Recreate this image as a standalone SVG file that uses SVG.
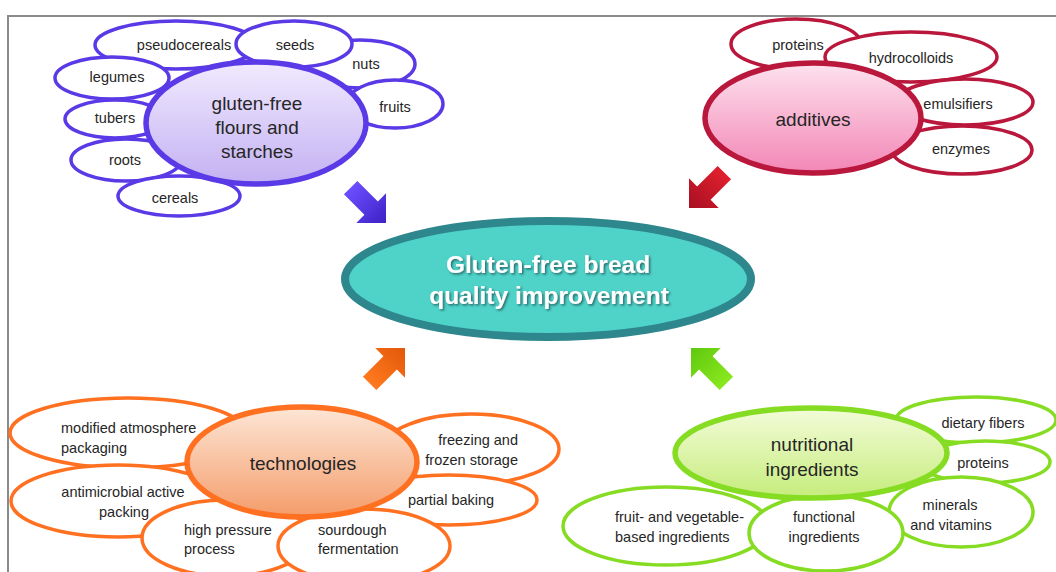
<svg xmlns="http://www.w3.org/2000/svg" width="1056" height="572" viewBox="0 0 1056 572">
  <defs>
    <linearGradient id="gPurple" x1="0" y1="0" x2="0" y2="1">
      <stop offset="0" stop-color="#f1eaff"/>
      <stop offset="1" stop-color="#c3b1f2"/>
    </linearGradient>
    <linearGradient id="gPink" x1="0" y1="0" x2="0" y2="1">
      <stop offset="0" stop-color="#fde2ee"/>
      <stop offset="1" stop-color="#f386b6"/>
    </linearGradient>
    <linearGradient id="gOrange" x1="0" y1="0" x2="0" y2="1">
      <stop offset="0" stop-color="#fde6d6"/>
      <stop offset="1" stop-color="#f49c6a"/>
    </linearGradient>
    <linearGradient id="gGreen" x1="0" y1="0" x2="0" y2="1">
      <stop offset="0" stop-color="#f3fcd9"/>
      <stop offset="1" stop-color="#c6ec7c"/>
    </linearGradient>
    <linearGradient id="aPurple" x1="0" y1="0" x2="1" y2="0">
      <stop offset="0" stop-color="#6c4dff"/>
      <stop offset="1" stop-color="#3d22c4"/>
    </linearGradient>
    <linearGradient id="aRed" x1="0" y1="0" x2="1" y2="0">
      <stop offset="0" stop-color="#e0202e"/>
      <stop offset="1" stop-color="#a80f22"/>
    </linearGradient>
    <linearGradient id="aOrange" x1="0" y1="0" x2="1" y2="0">
      <stop offset="0" stop-color="#ff7a1e"/>
      <stop offset="1" stop-color="#e2580a"/>
    </linearGradient>
    <linearGradient id="aGreen" x1="0" y1="0" x2="1" y2="0">
      <stop offset="0" stop-color="#8ae81e"/>
      <stop offset="1" stop-color="#5fc80e"/>
    </linearGradient>
    <filter id="shadow" x="-10%" y="-30%" width="120%" height="160%">
      <feDropShadow dx="1.5" dy="1.5" stdDeviation="1" flood-color="#1c3b40" flood-opacity="0.7"/>
    </filter>
    <path id="blockArrow" d="M0,0 L-21,-21 L-21,-9.5 L-50,-9.5 L-50,9.5 L-21,9.5 L-21,21 Z"/>
  </defs>
  <style>
    text { font-family: "Liberation Sans", Arial, sans-serif; fill: #262626; dominant-baseline: central; }
    .sat { font-size: 14.5px; text-anchor: middle; }
    .left { text-anchor: start; }
    .right { text-anchor: end; }
    .hub { font-size: 19px; text-anchor: middle; }
    .s-purple { fill: #fff; stroke: #5a3ae6; stroke-width: 3.5; }
    .s-red { fill: #fff; stroke: #b9173c; stroke-width: 3.5; }
    .s-orange { fill: #fff; stroke: #ff7020; stroke-width: 3.5; }
    .s-green { fill: #fff; stroke: #86dc22; stroke-width: 3.5; }
    .title { font-size: 24.5px; font-weight: bold; fill: #fff; text-anchor: middle; }
  </style>

  <rect width="1056" height="572" fill="#fff"/>
  <!-- frame -->
  <path d="M8,572 L8,16 L1056,16" fill="none" stroke="#8a8a8a" stroke-width="2"/>

  <!-- flours and starches cluster -->
  <g id="flours">
    <ellipse class="s-purple" cx="176" cy="45" rx="81" ry="24"/>
    <ellipse class="s-purple" cx="360" cy="64" rx="55" ry="24"/>
    <ellipse class="s-purple" cx="294" cy="44" rx="58" ry="23"/>
    <ellipse class="s-purple" cx="395" cy="104" rx="48" ry="24"/>
    <ellipse class="s-purple" cx="112" cy="78" rx="57" ry="21"/>
    <ellipse class="s-purple" cx="115" cy="119" rx="50" ry="19"/>
    <ellipse class="s-purple" cx="126" cy="160" rx="55" ry="21"/>
    <ellipse class="s-purple" cx="179" cy="196" rx="61" ry="20"/>
    <ellipse cx="256" cy="123" rx="110" ry="61" fill="url(#gPurple)" stroke="#5a3ae6" stroke-width="5.5"/>
    <text class="sat" x="184" y="45">pseudocereals</text>
    <text class="sat" x="295" y="45">seeds</text>
    <text class="sat" x="366" y="64">nuts</text>
    <text class="sat" x="395" y="107">fruits</text>
    <text class="sat" x="117" y="77">legumes</text>
    <text class="sat" x="115" y="118">tubers</text>
    <text class="sat" x="125" y="160">roots</text>
    <text class="sat" x="175" y="198">cereals</text>
    <text class="hub" x="257" y="103">gluten-free</text>
    <text class="hub" x="257" y="127">flours and</text>
    <text class="hub" x="257" y="151">starches</text>
  </g>

  <!-- additives cluster -->
  <g id="additives">
    <ellipse class="s-red" cx="796" cy="44" rx="65" ry="25"/>
    <ellipse class="s-red" cx="911" cy="57" rx="86" ry="25"/>
    <ellipse class="s-red" cx="965" cy="102" rx="68" ry="23"/>
    <ellipse class="s-red" cx="962" cy="150" rx="70" ry="24"/>
    <ellipse cx="813" cy="118" rx="108" ry="55" fill="url(#gPink)" stroke="#b9173c" stroke-width="5.5"/>
    <text class="sat" x="798" y="45">proteins</text>
    <text class="sat" x="911" y="58">hydrocolloids</text>
    <text class="sat" x="958" y="104">emulsifiers</text>
    <text class="sat" x="961" y="149">enzymes</text>
    <text class="hub" x="813" y="119">additives</text>
  </g>

  <!-- technologies cluster -->
  <g id="technologies">
    <ellipse class="s-orange" cx="128" cy="433" rx="118" ry="35"/>
    <ellipse class="s-orange" cx="118" cy="501" rx="107" ry="36"/>
    <ellipse class="s-orange" cx="226" cy="538" rx="84" ry="38"/>
    <ellipse class="s-orange" cx="471" cy="449" rx="88" ry="35"/>
    <ellipse class="s-orange" cx="449" cy="500" rx="88" ry="25"/>
    <ellipse class="s-orange" cx="364" cy="546" rx="86" ry="37"/>
    <ellipse cx="302" cy="462" rx="115" ry="55" fill="url(#gOrange)" stroke="#ff7020" stroke-width="5.5"/>
    <text class="sat left" x="61" y="428">modified atmosphere</text>
    <text class="sat left" x="61" y="448">packaging</text>
    <text class="sat" x="123" y="492">antimicrobial active</text>
    <text class="sat" x="124" y="512">packing</text>
    <text class="sat left" x="184" y="530">high pressure</text>
    <text class="sat left" x="184" y="549">process</text>
    <text class="sat left" x="318" y="530">sourdough</text>
    <text class="sat left" x="318" y="549">fermentation</text>
    <text class="sat right" x="518" y="440">freezing and</text>
    <text class="sat right" x="518" y="460">frozen storage</text>
    <text class="sat" x="451" y="500">partial baking</text>
    <text class="hub" x="303" y="463">technologies</text>
  </g>

  <!-- nutritional ingredients cluster -->
  <g id="nutritional">
    <ellipse class="s-green" cx="976" cy="420" rx="80" ry="23"/>
    <ellipse class="s-green" cx="985" cy="462" rx="65" ry="21"/>
    <ellipse class="s-green" cx="961" cy="512" rx="72" ry="35"/>
    <ellipse class="s-green" cx="666" cy="526" rx="103" ry="39"/>
    <ellipse class="s-green" cx="826" cy="533" rx="77" ry="38"/>
    <ellipse cx="811" cy="453" rx="136" ry="45" fill="url(#gGreen)" stroke="#86dc22" stroke-width="5.5"/>
    <text class="sat" x="983" y="423">dietary fibers</text>
    <text class="sat" x="983" y="463">proteins</text>
    <text class="sat" x="950" y="505">minerals</text>
    <text class="sat" x="951" y="525">and vitamins</text>
    <text class="sat left" x="615" y="517">fruit- and vegetable-</text>
    <text class="sat left" x="615" y="537">based ingredients</text>
    <text class="sat" x="824" y="517">functional</text>
    <text class="sat" x="824" y="537">ingredients</text>
    <text class="hub" x="812" y="444">nutritional</text>
    <text class="hub" x="812" y="469">ingredients</text>
  </g>

  <!-- central goal -->
  <g id="goal">
    <ellipse cx="548" cy="279" rx="203" ry="58" fill="#4fd3c9" stroke="#2e878d" stroke-width="8"/>
    <g filter="url(#shadow)">
      <text class="title" x="548" y="264">Gluten-free bread</text>
      <text class="title" x="549" y="295">quality improvement</text>
    </g>
  </g>

  <!-- arrows towards the goal -->
  <g id="connectors">
    <use href="#blockArrow" fill="url(#aPurple)" transform="translate(386,223) rotate(45)"/>
    <use href="#blockArrow" fill="url(#aRed)" transform="translate(689,208) rotate(135)"/>
    <use href="#blockArrow" fill="url(#aOrange)" transform="translate(405,348) rotate(-45)"/>
    <use href="#blockArrow" fill="url(#aGreen)" transform="translate(691,348) rotate(-135)"/>
  </g>
</svg>
